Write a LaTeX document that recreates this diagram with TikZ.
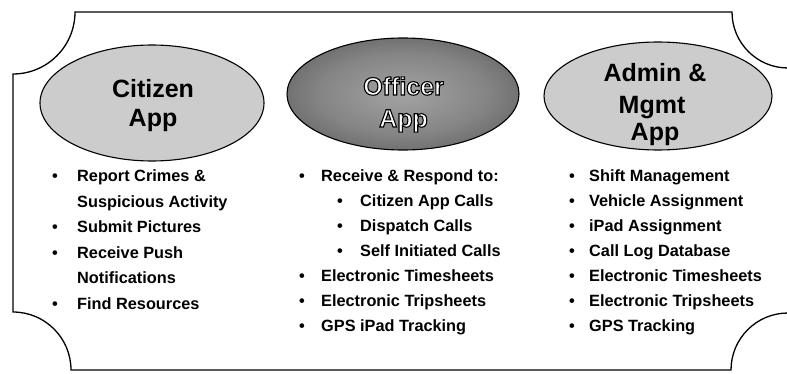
\documentclass[tikz,border=0pt]{standalone}
\usepackage{fontspec}
\setmainfont{Liberation Sans}
\usetikzlibrary{shapes.geometric}
\pgfdeclareradialshading{ofcshade}{\pgfpoint{0bp}{0bp}}{color(0bp)=(black!36); color(18bp)=(black!48); color(50bp)=(black!82)}
\newcommand\outlinetxt[1]{\special{pdf:literal direct 2 Tr 1.1 w 0 G}#1\special{pdf:literal direct 0 Tr 0.3985 w}}
\tikzset{
  frameline/.style={line width=1.3pt, draw=black},
  appell/.style={ellipse, draw=black, line width=1.1pt, inner sep=0pt},
  lightfill/.style={fill=black!20},
  ttl/.style={font=\fontsize{25}{29}\selectfont\bfseries, inner sep=0pt, anchor=base},
  itm/.style={font=\fontsize{16.3}{20}\selectfont\bfseries, inner sep=0pt, anchor=base west},
  bul/.style={font=\fontsize{16.3}{20}\selectfont\bfseries, inner sep=0pt, anchor=base},
}
\begin{document}
\begin{tikzpicture}[x=1pt,y=1pt]
\useasboundingbox (0,0) rectangle (787,373);
\clip (0,0) rectangle (787,373);
% frame with concave corners
\draw[frameline] (13,299) -- (13,61) arc[start angle=90,end angle=0,radius=58]
  -- (731,3) arc[start angle=180,end angle=90,radius=57]
  -- (788,305) arc[start angle=270,end angle=180,radius=56]
  -- (75,361) arc[start angle=0,end angle=-90,radius=62] -- cycle;
% ellipses
\node[appell, lightfill, minimum width=224pt, minimum height=116pt] (cit) at (152,270) {};
\node[appell, shading=ofcshade, minimum width=232pt, minimum height=112pt] (ofc) at (403,279) {};
\node[appell, lightfill, minimum width=228pt, minimum height=108pt] (adm) at (658,277) {};
% titles
\node[ttl] (citt1) at (153,276) {Citizen};
\node[ttl] (citt2) at (153,247) {App};
\node[ttl, text=white] (ofct1) at (403.5,278) {\outlinetxt{Officer}};
\node[ttl, text=white] (ofct2) at (403.5,246) {\outlinetxt{App}};
\node[ttl] (admt1) at (655,291) {Admin \&};
\node[ttl] (admt2) at (652,260) {Mgmt};
\node[ttl] (admt3) at (655,233) {App};
% citizen list
\node[bul] (cb1) at (55,191.5) {•};
\node[itm] (c1) at (77,191.5) {Report Crimes \&};
\node[itm] (c2) at (77,166) {Suspicious Activity};
\node[bul] (cb3) at (55,140.5) {•};
\node[itm] (c3) at (77,140.5) {Submit Pictures};
\node[bul] (cb4) at (55,115) {•};
\node[itm] (c4) at (77,115) {Receive Push};
\node[itm] (c5) at (77,89.5) {Notifications};
\node[bul] (cb6) at (55,64) {•};
\node[itm] (c6) at (77,64) {Find Resources};
% officer list
\node[bul] (ob1) at (302,191.5) {•};
\node[itm] (o1) at (321,191.5) {Receive \& Respond to:};
\node[bul] (ob2) at (340,166.5) {•};
\node[itm] (o2) at (360,166.5) {Citizen App Calls};
\node[bul] (ob3) at (340,141.5) {•};
\node[itm] (o3) at (360,141.5) {Dispatch Calls};
\node[bul] (ob4) at (340,116.5) {•};
\node[itm] (o4) at (360,116.5) {Self Initiated Calls};
\node[bul] (ob5) at (302,91.5) {•};
\node[itm] (o5) at (321,91.5) {Electronic Timesheets};
\node[bul] (ob6) at (302,66.5) {•};
\node[itm] (o6) at (321,66.5) {Electronic Tripsheets};
\node[bul] (ob7) at (302,41.5) {•};
\node[itm] (o7) at (321,41.5) {GPS iPad Tracking};
% admin list
\node[bul] (ab1) at (572,191.5) {•};
\node[itm] (a1) at (589,191.5) {Shift Management};
\node[bul] (ab2) at (572,166.5) {•};
\node[itm] (a2) at (589,166.5) {Vehicle Assignment};
\node[bul] (ab3) at (572,141.5) {•};
\node[itm] (a3) at (589,141.5) {iPad Assignment};
\node[bul] (ab4) at (572,116.5) {•};
\node[itm] (a4) at (589,116.5) {Call Log Database};
\node[bul] (ab5) at (572,91.5) {•};
\node[itm] (a5) at (589,91.5) {Electronic Timesheets};
\node[bul] (ab6) at (572,66.5) {•};
\node[itm] (a6) at (589,66.5) {Electronic Tripsheets};
\node[bul] (ab7) at (572,41.5) {•};
\node[itm] (a7) at (589,41.5) {GPS Tracking};
\end{tikzpicture}
\end{document}
